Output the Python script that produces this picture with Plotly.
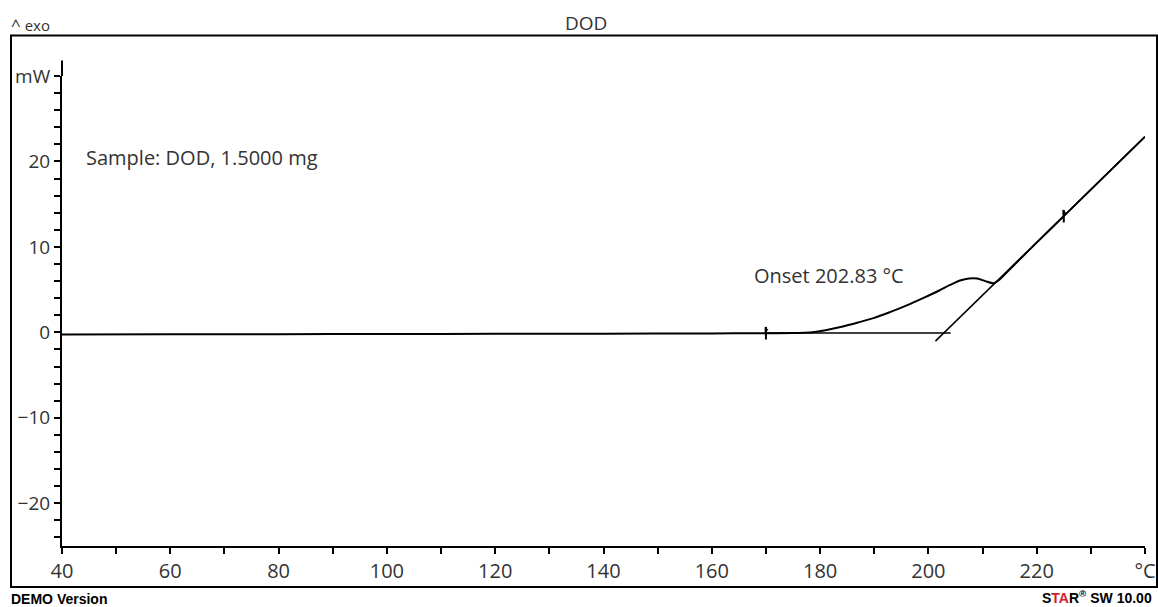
import numpy as np
import plotly.graph_objects as go

# ---- data ----
temps = [40, 60, 80, 100, 120, 140, 160, 170, 175, 177, 179, 181, 184, 187, 190, 193,
         196, 199, 202, 204, 206, 207.5, 209, 210.5, 212, 213, 216, 220, 225, 230, 235, 240]
heat_flow = [-0.25, -0.23, -0.21, -0.19, -0.17, -0.15, -0.12, -0.1, -0.08, -0.05, 0.05, 0.25,
             0.65, 1.15, 1.7, 2.4, 3.15, 4.0, 4.9, 5.55, 6.1, 6.3, 6.3, 6.0, 5.75, 6.1, 8.0,
             10.5, 13.6, 16.7, 19.8, 22.9]

onset_temp = 202.83
baseline_level = -0.08
tangent_slope = 0.618
baseline_span = [170, 204.1]
tangent_span = [201.3, 240]
eval_limits = [170, 225]

x_ticks = [40, 60, 80, 100, 120, 140, 160, 180, 200, 220, 240]
x_labels = ["40", "60", "80", "100", "120", "140", "160", "180", "200", "220", "°C"]
y_ticks = [-20, -10, 0, 10, 20, 30]
y_labels = ["\u221220", "\u221210", "0", "10", "20", "mW"]

FONT = "Open Sans"
TXT = "#333333"

fig = go.Figure()

# main curve
fig.add_trace(go.Scatter(x=temps, y=heat_flow, mode="lines",
                         line=dict(color="black", width=2, shape="spline", smoothing=0.8),
                         hoverinfo="skip"))
# baseline for onset evaluation
fig.add_trace(go.Scatter(x=baseline_span, y=[baseline_level, baseline_level], mode="lines",
                         line=dict(color="black", width=1.5), hoverinfo="skip"))
# tangent
tan_y = [baseline_level + tangent_slope * (t - onset_temp) for t in tangent_span]
fig.add_trace(go.Scatter(x=tangent_span, y=tan_y, mode="lines",
                         line=dict(color="black", width=1.5), hoverinfo="skip"))
# evaluation limit flags
lim_y = list(np.interp(eval_limits, temps, heat_flow))
fig.add_trace(go.Scatter(x=eval_limits, y=lim_y, mode="markers",
                         marker=dict(symbol="line-ns", size=9,
                                     line=dict(color="black", width=2)),
                         hoverinfo="skip"))
fig.add_trace(go.Scatter(x=eval_limits, y=[v + 0.4 for v in lim_y], mode="markers",
                         marker=dict(symbol="triangle-right", size=5, color="black"),
                         hoverinfo="skip"))

L, R, T, B = 62, 13, 75.5, 61
W, H = 1158, 607
pw, ph = W - L - R, H - T - B

def px(x):
    return (x - L) / pw

def py(y):
    return (H - B - y) / ph

shapes = [
    # outer frame
    dict(type="rect", xref="paper", yref="paper", x0=px(11), x1=px(1157),
         y0=py(587), y1=py(35), line=dict(color="black", width=2)),
    # y-axis extension above top tick
    dict(type="line", xref="paper", yref="paper", x0=0, x1=0, y0=1, y1=py(60),
         line=dict(color="black", width=2)),
]

annotations = [
    dict(text="<span style='font-size:17px'>^</span> exo", x=px(9), y=py(24),
         xref="paper", yref="paper",
         xanchor="left", yanchor="middle", showarrow=False,
         font=dict(family=FONT, size=15, color=TXT)),
    dict(text="DOD", x=px(586), y=py(22), xref="paper", yref="paper",
         xanchor="center", yanchor="middle", showarrow=False,
         font=dict(family=FONT, size=19, color=TXT)),
    dict(text="Sample: DOD, 1.5000 mg", x=px(84), y=py(157), xref="paper", yref="paper",
         xanchor="left", yanchor="middle", showarrow=False,
         font=dict(family=FONT, size=20, color=TXT)),
    dict(text="Onset 202.83 \u00b0C", x=px(752), y=py(275), xref="paper", yref="paper",
         xanchor="left", yanchor="middle", showarrow=False,
         font=dict(family=FONT, size=20, color=TXT)),
    dict(text="<b>DEMO Version</b>", x=px(9), y=py(599), xref="paper", yref="paper",
         xanchor="left", yanchor="middle", showarrow=False,
         font=dict(family="Liberation Sans", size=14, color="black")),
    dict(text="<b>S<span style='color:#d4202c'>TA</span>R<sup>\u00ae</sup> SW 10.00</b>",
         x=px(1154), y=py(597), xref="paper", yref="paper",
         xanchor="right", yanchor="middle", showarrow=False,
         font=dict(family="Liberation Sans", size=14, color="black")),
]

fig.update_layout(
    width=W, height=H,
    margin=dict(l=L, r=R, t=T, b=B, autoexpand=False),
    paper_bgcolor="white", plot_bgcolor="white",
    showlegend=False,
    shapes=shapes,
    annotations=annotations,
    xaxis=dict(range=[40, 240], tickvals=x_ticks, ticktext=x_labels, automargin=False,
               showgrid=False, zeroline=False, showline=True, linecolor="black",
               linewidth=2, ticks="outside", ticklen=6, tickwidth=2, tickcolor="black",
               minor=dict(dtick=10, tick0=40, ticks="outside", ticklen=6, tickwidth=2,
                          tickcolor="black", showgrid=False),
               tickfont=dict(family=FONT, size=20, color=TXT)),
    yaxis=dict(range=[-25, 30], tickvals=y_ticks, ticktext=y_labels, automargin=False,
               showgrid=False, zeroline=False, showline=True, linecolor="black",
               linewidth=2, ticks="outside", ticklen=6, tickwidth=2, tickcolor="black",
               minor=dict(dtick=2, tick0=0, ticks="outside", ticklen=6, tickwidth=2,
                          tickcolor="black", showgrid=False),
               tickfont=dict(family=FONT, size=19, color=TXT)),
)

fig.write_html("out.html")
